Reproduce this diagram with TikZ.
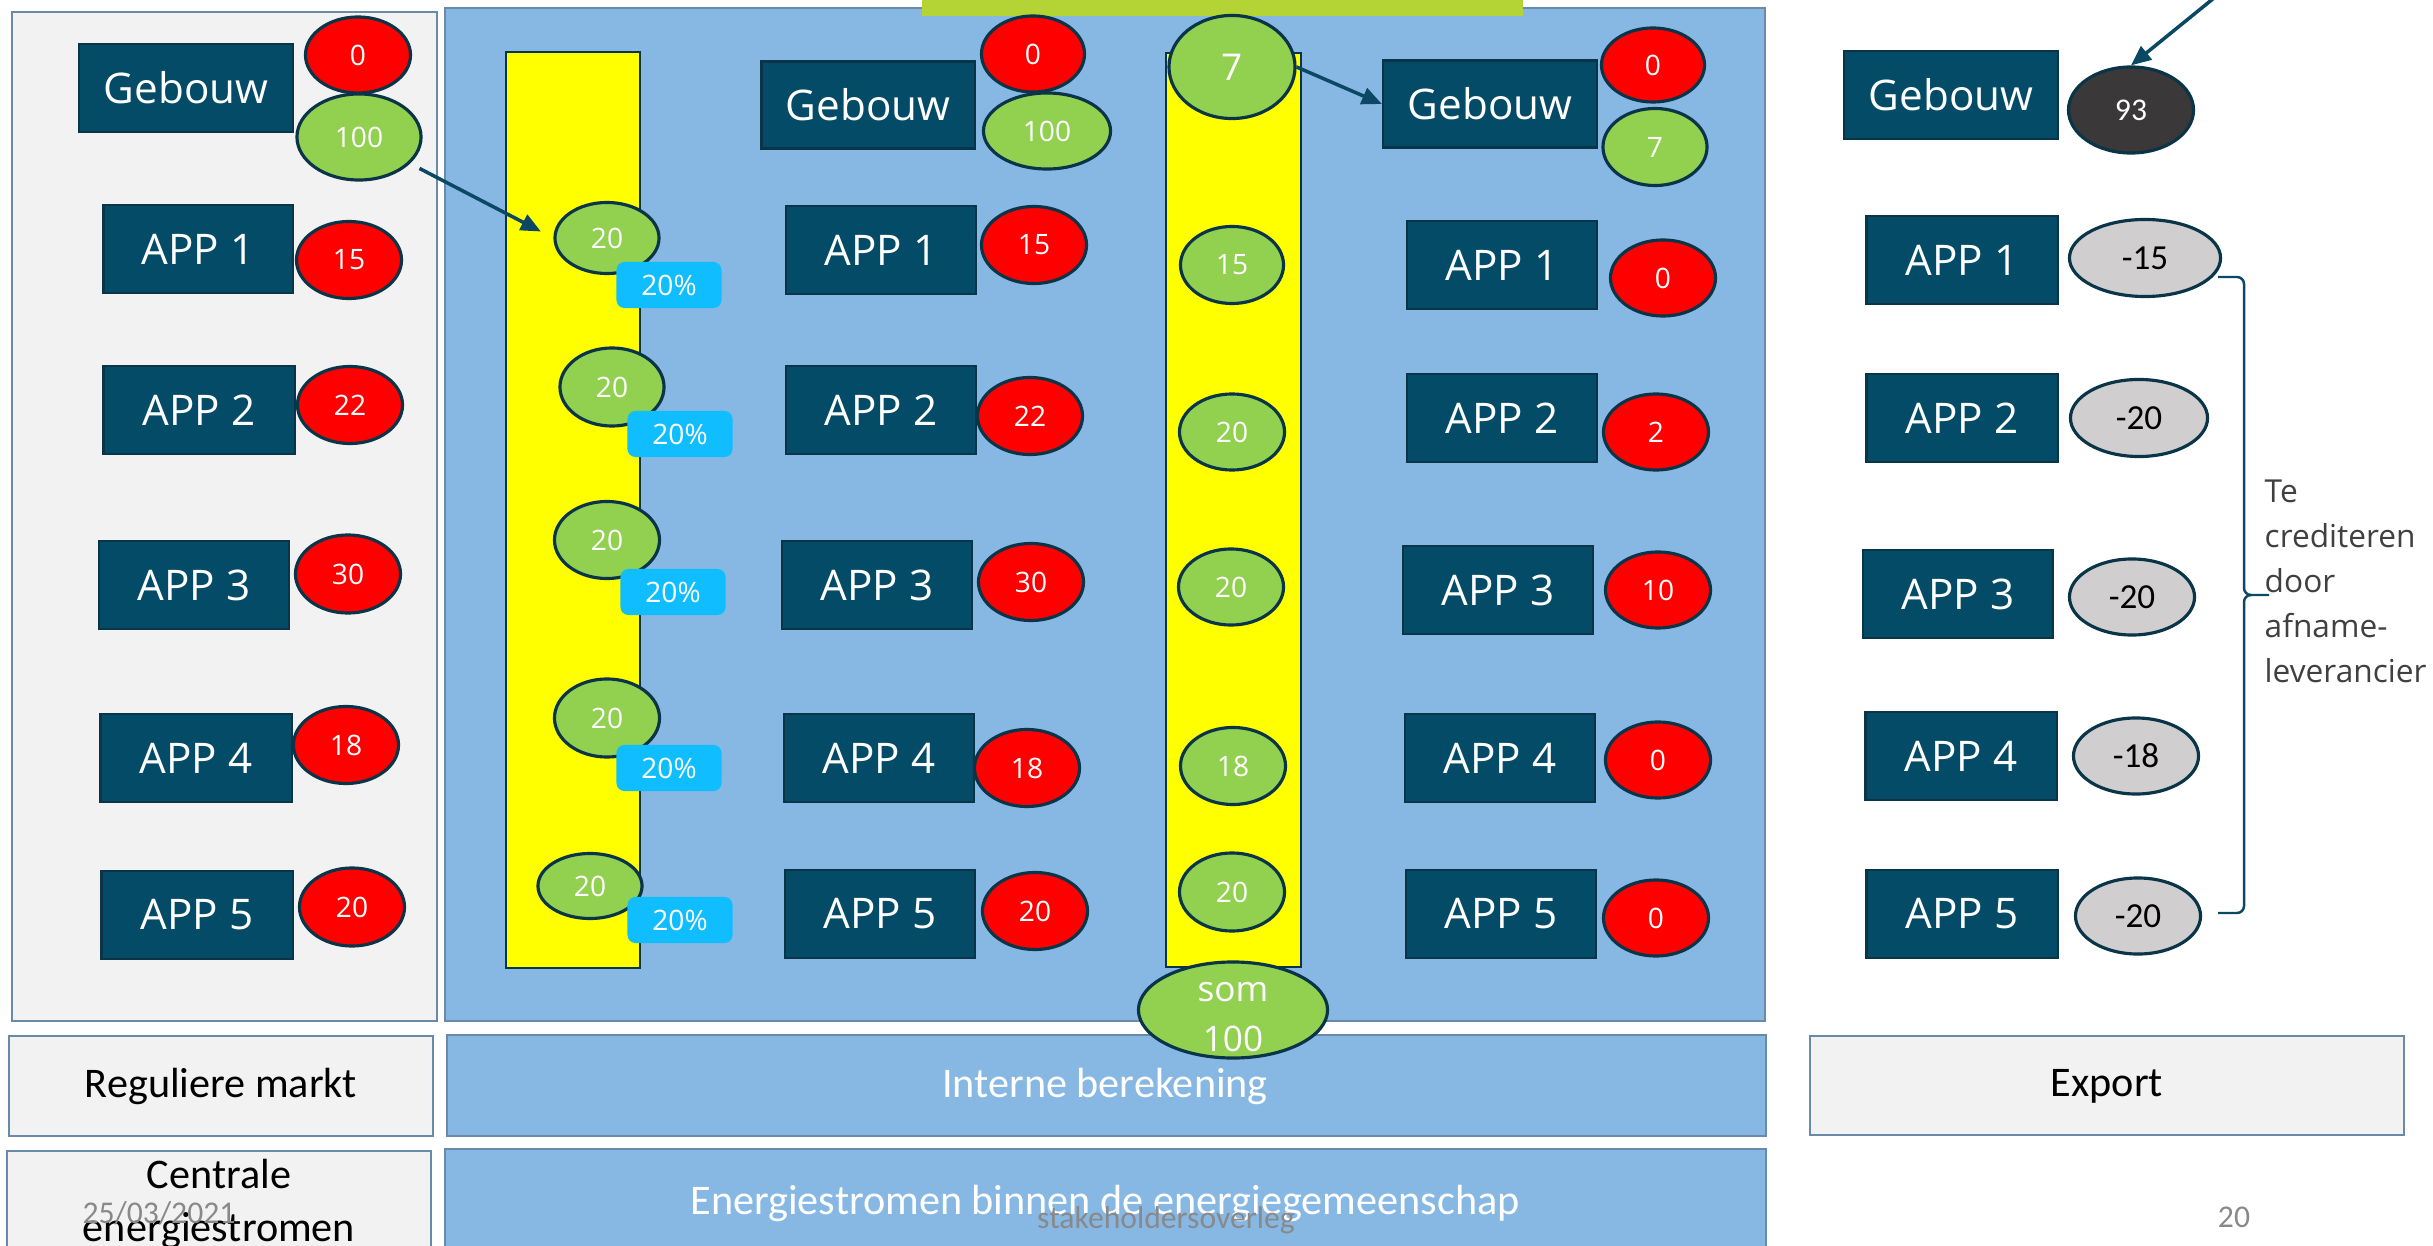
\documentclass[tikz,border=0pt]{standalone}
\usepackage{fontspec}
\setmainfont{Open Sans}
\newfontfamily\carl{Carlito}
\usetikzlibrary{arrows.meta,shapes.geometric}
\definecolor{navy}{RGB}{3,75,102}
\definecolor{navyb}{RGB}{10,52,72}
\definecolor{redc}{RGB}{255,0,0}
\definecolor{grnc}{RGB}{146,208,80}
\definecolor{yelc}{RGB}{255,255,0}
\definecolor{pblue}{RGB}{135,184,228}
\definecolor{pbord}{RGB}{106,138,170}
\definecolor{lgray}{RGB}{242,242,242}
\definecolor{cyanc}{RGB}{16,190,255}
\definecolor{grayc}{RGB}{208,206,206}
\definecolor{darkc}{RGB}{58,56,56}
\definecolor{topbar}{RGB}{180,211,52}
\definecolor{txtgray}{RGB}{64,64,64}
\definecolor{footgray}{RGB}{137,137,137}
\definecolor{arrc}{RGB}{10,72,100}
\tikzset{
  panel/.style={draw=pbord, line width=0.8pt},
  bpanel/.style={panel, fill=pblue},
  gpanel/.style={panel, fill=lgray},
  bar/.style={draw=navyb, line width=0.8pt, fill=yelc},
  appbox/.style={rectangle, draw=navyb, fill=navy, line width=0.6pt, text=white,
    font=\fontsize{12}{14}\selectfont, inner sep=0pt, minimum height=0.88cm, minimum width=1.90cm},
  el/.style={ellipse, draw=navyb, line width=0.9pt, inner sep=0pt, text=white,
    font=\fontsize{8}{9}\selectfont},
  redel/.style={el, fill=redc, minimum width=1.05cm, minimum height=0.77cm},
  grnel/.style={el, fill=grnc, minimum width=1.04cm, minimum height=0.77cm},
  gryel/.style={el, fill=grayc, text=black, font=\carl\fontsize{10}{12}\selectfont,
    minimum width=1.25cm, minimum height=0.76cm},
  pct/.style={rectangle, rounded corners=0.08cm, fill=cyanc, text=white, inner sep=0pt,
    minimum width=1.05cm, minimum height=0.46cm, font=\fontsize{8}{9}\selectfont},
  lbl/.style={inner sep=0pt, font=\carl\fontsize{12}{15}\selectfont},
  foot/.style={inner sep=0pt, text=footgray},
  arr/.style={draw=arrc, line width=1pt, -{Triangle[length=0.2cm,width=0.17cm]}},
}
\begin{document}
\begin{tikzpicture}[x=0.01cm,y=-0.01cm]
\useasboundingbox (0,0) rectangle (2433,1246);
\clip (0,0) rectangle (2433,1246);
% panels
\draw[gpanel] (12,12) rectangle (437,1021);
\draw[bpanel] (445,8) rectangle (1765,1021);
\fill[topbar] (922,-10) rectangle (1523,16);
% yellow bars
\draw[bar] (506,52) rectangle (640,968);
\draw[bar] (1166,53) rectangle (1301,967);

% left column (regular market)
\node[appbox, minimum width=2.14cm] (lGeb) at (186,88) {Gebouw};
\node[redel, minimum height=0.76cm] (lGeb0) at (358,55) {0};
\node[grnel, minimum width=1.24cm, minimum height=0.86cm] (lGeb100) at (359,137) {100};
\node[appbox, minimum width=1.89cm] (lA1) at (198,249) {APP 1};
\node[redel] (lV1) at (349,260) {15};
\node[appbox, minimum width=1.91cm] (lA2) at (199,410) {APP 2};
\node[redel] (lV2) at (350,405) {22};
\node[appbox] (lA3) at (194,585) {APP 3};
\node[redel, minimum height=0.78cm] (lV3) at (348,574) {30};
\node[appbox, minimum width=1.91cm] (lA4) at (196,758) {APP 4};
\node[redel] (lV4) at (346,745) {18};
\node[appbox, minimum width=1.91cm] (lA5) at (197,915) {APP 5};
\node[redel, minimum height=0.78cm] (lV5) at (352,907) {20};

% first yellow bar
\node[grnel, minimum height=0.71cm] (g1) at (607,238) {20};
\node[pct] (p1) at (669,285) {20\%};
\node[grnel, minimum height=0.78cm] (g2) at (612,387) {20};
\node[pct] (p2) at (680,434) {20\%};
\node[grnel, minimum width=1.05cm] (g3) at (607,540) {20};
\node[pct] (p3) at (673,592) {20\%};
\node[grnel, minimum width=1.05cm, minimum height=0.78cm] (g4) at (607,718) {20};
\node[pct] (p4) at (669,768) {20\%};
\node[grnel, minimum height=0.65cm] (g5) at (590,886) {20};
\node[pct] (p5) at (680,920) {20\%};

% middle column
\node[appbox, minimum width=2.13cm, minimum height=0.87cm] (mGeb) at (868,105) {Gebouw};
\node[redel, minimum width=1.03cm, minimum height=0.76cm] (mGeb0) at (1033,54) {0};
\node[grnel, minimum width=1.27cm, minimum height=0.76cm] (mGeb100) at (1047,131) {100};
\node[appbox] (mA1) at (881,250) {APP 1};
\node[redel] (mV1) at (1034,245) {15};
\node[appbox] (mA2) at (881,410) {APP 2};
\node[redel] (mV2) at (1030,416) {22};
\node[appbox] (mA3) at (877,585) {APP 3};
\node[redel] (mV3) at (1031,582) {30};
\node[appbox] (mA4) at (879,758) {APP 4};
\node[redel] (mV4) at (1027,768) {18};
\node[appbox] (mA5) at (880,914) {APP 5};
\node[redel] (mV5) at (1035,911) {20};

% second yellow bar
\node[grnel, minimum width=1.26cm, minimum height=1.03cm, font=\fontsize{10.5}{12}\selectfont] (s7) at (1232,67) {7};
\node[grnel, minimum width=1.03cm] (s1) at (1232,265) {15};
\node[grnel, minimum width=1.05cm, minimum height=0.76cm] (s2) at (1232,432) {20};
\node[grnel, minimum width=1.05cm, minimum height=0.76cm] (s3) at (1231,587) {20};
\node[grnel, minimum width=1.05cm] (s4) at (1233,766) {18};
\node[grnel, minimum width=1.05cm, minimum height=0.78cm] (s5) at (1232,892) {20};

% right column inside community
\node[appbox, minimum width=2.14cm, minimum height=0.87cm] (rGeb) at (1490,104) {Gebouw};
\node[redel, minimum width=1.03cm, minimum height=0.74cm] (rGeb0) at (1653,65) {0};
\node[grnel] (rGeb7) at (1655,147) {7};
\node[appbox] (rA1) at (1502,265) {APP 1};
\node[redel, minimum height=0.76cm] (rV1) at (1663,278) {0};
\node[appbox] (rA2) at (1502,418) {APP 2};
\node[redel, minimum height=0.76cm] (rV2) at (1656,432) {2};
\node[appbox] (rA3) at (1498,590) {APP 3};
\node[redel, minimum height=0.76cm] (rV3) at (1658,590) {10};
\node[appbox] (rA4) at (1500,758) {APP 4};
\node[redel, minimum height=0.76cm] (rV4) at (1658,760) {0};
\node[appbox] (rA5) at (1501,914) {APP 5};
\node[redel, minimum height=0.76cm] (rV5) at (1656,918) {0};

% export column
\node[appbox, minimum width=2.14cm] (eGeb) at (1951,95) {Gebouw};
\node[el, fill=darkc, font=\carl\fontsize{9}{11}\selectfont, minimum width=1.25cm, minimum height=0.86cm] (e93) at (2131,110) {93};
\node[appbox, minimum width=1.91cm] (eA1) at (1962,260) {APP 1};
\node[gryel, minimum width=1.51cm, minimum height=0.77cm] (eV1) at (2145,258) {-15};
\node[appbox, minimum width=1.91cm] (eA2) at (1962,418) {APP 2};
\node[gryel, minimum width=1.37cm, minimum height=0.77cm] (eV2) at (2139,418) {-20};
\node[appbox] (eA3) at (1958,594) {APP 3};
\node[gryel] (eV3) at (2132,597) {-20};
\node[appbox, minimum width=1.91cm] (eA4) at (1961,756) {APP 4};
\node[gryel] (eV4) at (2136,756) {-18};
\node[appbox, minimum width=1.91cm] (eA5) at (1962,914) {APP 5};
\node[gryel] (eV5) at (2138,916) {-20};

% brace and its text
\draw[draw=arrc, line width=0.7pt]
  (2218,277) -- (2237,277) to[out=0,in=90] (2244,284) -- (2244,588)
  to[out=-90,in=180] (2251,595) -- (2269,595);
\draw[draw=arrc, line width=0.7pt]
  (2251,595) to[out=180,in=90] (2244,602) -- (2244,906)
  to[out=-90,in=0] (2237,913) -- (2218,913);
\node[inner sep=0pt, anchor=west, align=left, text=txtgray,
  font=\fontsize{9}{12.8}\selectfont] (cred) at (2264,581)
  {Te\\crediteren\\door\\afname-\\leverancier};

% connectors
\draw[arr, shorten <=3pt, shorten >=4pt] (lGeb100) -- (g1.west);
\draw[arr] (s7.east) -- (rGeb.west);
\coordinate (etop) at (2214,-2);
\draw[arr] (etop) -- (e93.north);

% bottom bands
\draw[gpanel] (9,1036) rectangle (433,1136);
\node[lbl] (regm) at (221,1086) {Reguliere markt};
\draw[bpanel] (447,1035) rectangle (1766,1136);
\node[lbl, text=white] (intb) at (1105,1086) {Interne berekening};
\draw[gpanel] (1810,1036) rectangle (2404,1135);
\node[lbl] (expo) at (2107,1086) {Export};
\draw[gpanel] (7,1151) rectangle (431,1260);
\node[lbl, align=center] (cent) at (219,1204) {Centrale\\energiestromen};
\draw[bpanel] (445,1149) rectangle (1766,1260);
\node[lbl, text=white] (enbin) at (1105,1203) {Energiestromen binnen de energiegemeenschap};

% sum ellipse over the band
\node[grnel, minimum width=1.89cm, minimum height=0.96cm] (som) at (1233,1010) {};
\node[inner sep=0pt, align=center, text=white,
  font=\fontsize{10}{14}\selectfont] (somt) at (1233,1017) {som\\100};

% footer
\node[foot, font=\carl\fontsize{9}{11}\selectfont] (date) at (159,1213) {25/03/2021};
\node[foot, font=\carl\fontsize{9}{11}\selectfont] (stake) at (1166,1220) {stakeholdersoverleg};
\node[foot, font=\carl\fontsize{9}{11}\selectfont] (pnum) at (2234,1217) {20};
\end{tikzpicture}
\end{document}
